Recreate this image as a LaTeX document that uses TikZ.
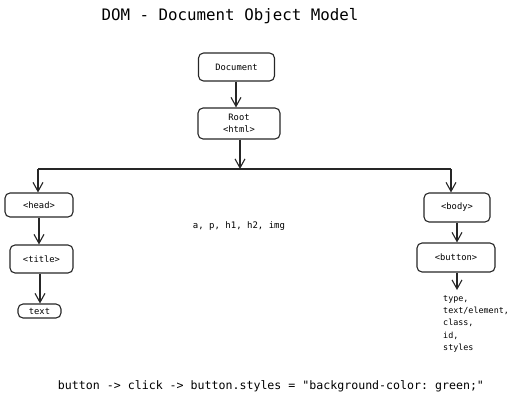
\documentclass[tikz,border=0pt]{standalone}
\usepackage{fontspec}
\setmonofont{DejaVu Sans Mono}
\usetikzlibrary{arrows.meta}
\tikzset{
  box/.style={draw=black!85, line width=1.1pt, rounded corners=5pt, inner sep=0pt, align=center, font=\ttfamily\fontsize{8.8}{12}\selectfont},
  arr/.style={draw=black!85, line width=1.1pt, -{Straight Barb[length=9pt,width=10pt,line width=1.1pt]}},
  ln/.style={draw=black!85, line width=1.1pt},
  lbl/.style={inner sep=0pt, font=\ttfamily\fontsize{9}{12}\selectfont}
}
\begin{document}
\begin{tikzpicture}[x=1pt,y=-1pt]
\useasboundingbox (0,0) rectangle (518,401);
\node[inner sep=0pt, font=\ttfamily\fontsize{15.8}{18}\selectfont] (ttl) at (230,16) {DOM - Document Object Model};
\node[box, minimum width=76pt, minimum height=28pt] (doc) at (236.5,67) {Document};
\node[box, minimum width=82pt, minimum height=31pt] (root) at (239,123.5) {Root\\<html>};
\node[box, minimum width=68pt, minimum height=24pt] (head) at (39,205) {<head>};
\node[box, minimum width=63pt, minimum height=28pt] (title) at (41.5,259) {<title>};
\node[box, minimum width=43pt, minimum height=14pt] (txt) at (39.5,311) {text};
\node[box, minimum width=66pt, minimum height=29pt] (body) at (457,207.5) {<body>};
\node[box, minimum width=78pt, minimum height=29pt] (button) at (456,257.5) {<button>};
\node[lbl] (tags) at (239,226) {a, p, h1, h2, img};
\node[inner sep=0pt, anchor=north west, align=left, font=\ttfamily\fontsize{8.4}{12.4}\selectfont] (props) at (443,295) {type,\\text/element,\\class,\\id,\\styles};
\node[inner sep=0pt, font=\ttfamily\fontsize{11.6}{14}\selectfont] (code) at (271,386) {button -> click -> button.styles = "background-color: green;"};
\coordinate (L) at (38,169);
\coordinate (R) at (451,169);
\coordinate (J) at (240,169);
\coordinate (B) at (457,290);
\draw[arr] (doc.south -| 236,0) -- (root.north -| 236,0);
\draw[arr] (root.south -| J) -- (J);
\draw[ln] (L) -- (R);
\draw[arr] (L) -- (L |- head.north);
\draw[arr] (R) -- (R |- body.north);
\draw[arr] (head.south -| 39,0) -- (title.north -| 39,0);
\draw[arr] (title.south -| 40,0) -- (txt.north -| 40,0);
\draw[arr] (body.south -| 457,0) -- (button.north -| 457,0);
\draw[arr] (button.south -| B) -- (B);
\end{tikzpicture}
\end{document}
